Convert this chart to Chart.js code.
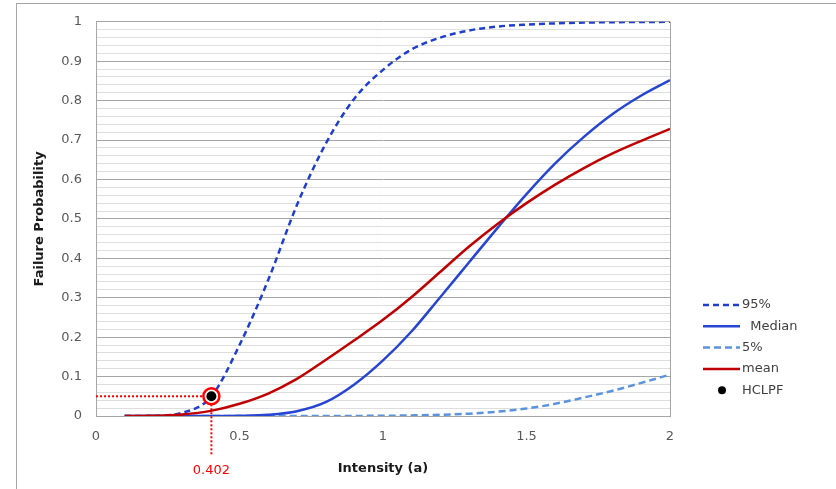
<!DOCTYPE html>
<html>
<head>
<meta charset="utf-8">
<script src="https://cdn.jsdelivr.net/npm/chart.js@4.4.1/dist/chart.umd.min.js"></script>
<style>
  body { margin: 0; background: #fff; }
  #wrap { position: relative; width: 836px; height: 489px; overflow: hidden; }
  /* grey frame of the pasted figure, only top and left edges show */
  #frame { position: absolute; left: 16px; top: 3px; width: 900px; height: 600px;
           border-top: 1px solid #a6a6a6; border-left: 1px solid #a6a6a6; }
  canvas { position: absolute; left: 0; top: 0; }
</style>
</head>
<body>
<div id="wrap"><div id="frame"></div><canvas id="fragility-chart" width="836" height="489"></canvas></div>
<script>
// intensity values (x) every 0.1
const intensity = [0.1, 0.2, 0.3, 0.4, 0.5, 0.6, 0.7, 0.8, 0.9, 1.0,
                   1.1, 1.2, 1.3, 1.4, 1.5, 1.6, 1.7, 1.8, 1.9, 2.0];

// failure probability per curve
const p95    = [0, 0.0005, 0.008, 0.048, 0.18, 0.345, 0.535, 0.69, 0.805, 0.878,
                0.93, 0.96, 0.978, 0.988, 0.993, 0.996, 0.998, 0.999, 0.9995, 1.0];
const median = [0, 0, 0, 0, 0.0005, 0.003, 0.012, 0.035, 0.08, 0.141,
                0.215, 0.302, 0.39, 0.478, 0.563, 0.641, 0.708, 0.766, 0.813, 0.852];
const p5     = [0, 0, 0, 0, 0, 0, 0, 0, 0.0002, 0.0006,
                0.0015, 0.003, 0.006, 0.011, 0.019, 0.031, 0.047, 0.064, 0.084, 0.105];
const mean   = [0, 0.0005, 0.004, 0.013, 0.031, 0.057, 0.094, 0.142, 0.192, 0.244,
                0.302, 0.366, 0.43, 0.488, 0.54, 0.587, 0.629, 0.666, 0.698, 0.728];

// HCLPF point
const hclpfX = 0.402;
const hclpfY = 0.05;

// tick labels
const xTickLabels = ['0', '0.5', '1', '1.5', '2'];
const yTickLabels = ['0', '0.1', '0.2', '0.3', '0.4', '0.5', '0.6', '0.7', '0.8', '0.9', '1'];

const FONT = "'DejaVu Sans', sans-serif";
Chart.defaults.font.family = FONT;
Chart.defaults.font.size = 13;

const toPoints = (ys) => intensity.map((x, i) => ({x: x, y: ys[i]}));
const isMajor = (v) => Math.abs(v * 10 - Math.round(v * 10)) < 1e-6;

const lineBase = {
    pointRadius: 0,
    borderWidth: 2.5,
    fill: false,
    cubicInterpolationMode: 'monotone'
};

// legend on the right + the red "0.402" label under the axis
const extrasPlugin = {
    id: 'extras',
    afterDraw(chart, args, opts) {
        const ctx = chart.ctx;
        const x0 = chart.chartArea.right + 33;
        let y = opts.legendTop;
        ctx.save();
        ctx.font = "13px " + FONT;
        ctx.textBaseline = 'middle';
        chart.data.datasets.forEach(ds => {
            if (!ds.inLegend) return;
            if (ds.showLine === false) {
                ctx.fillStyle = ds.pointBackgroundColor;
                ctx.beginPath();
                ctx.arc(x0 + 19, y, 4, 0, Math.PI * 2);
                ctx.fill();
            } else {
                ctx.strokeStyle = ds.borderColor;
                ctx.lineWidth = ds.borderWidth;
                ctx.setLineDash(ds.borderDash || []);
                ctx.beginPath();
                ctx.moveTo(x0, y);
                ctx.lineTo(x0 + 37, y);
                ctx.stroke();
                ctx.setLineDash([]);
            }
            ctx.fillStyle = '#404040';
            ctx.textAlign = 'left';
            ctx.fillText(ds.label, x0 + 39, y);
            y += 21.3;
        });

        const xs = chart.scales.x;
        ctx.fillStyle = '#ff0000';
        ctx.textAlign = 'center';
        ctx.fillText(String(hclpfX), xs.getPixelForValue(hclpfX), opts.valueLabelY);
        ctx.restore();
    }
};

new Chart("fragility-chart", {
    type: "line",
    data: {
        datasets: [
            Object.assign({}, lineBase, {
                label: '95%', data: toPoints(p95), inLegend: true,
                borderColor: '#1f3ecf', borderDash: [6, 4], order: 3
            }),
            Object.assign({}, lineBase, {
                label: '  Median', data: toPoints(median), inLegend: true,
                borderColor: '#2645d2', order: 3
            }),
            Object.assign({}, lineBase, {
                label: '5%', data: toPoints(p5), inLegend: true,
                borderColor: '#5b93dc', borderDash: [7, 4], order: 4
            }),
            Object.assign({}, lineBase, {
                label: 'mean', data: toPoints(mean), inLegend: true,
                borderColor: '#c00000', order: 2
            }),
            {
                label: 'HCLPF', data: [{x: hclpfX, y: hclpfY}], showLine: false, inLegend: true,
                pointRadius: 5, pointBackgroundColor: '#000000', pointBorderWidth: 0, order: 0
            },
            {
                label: 'ring', data: [{x: hclpfX, y: hclpfY}], showLine: false,
                pointRadius: 8, pointBackgroundColor: '#ffffff', pointBorderColor: '#ff0000',
                pointBorderWidth: 2.5, order: 1
            },
            // red dotted guide lines to the HCLPF point
            {
                label: 'guideH', data: [{x: 0, y: hclpfY}, {x: hclpfX, y: hclpfY}],
                borderColor: '#ff0000', borderWidth: 2, borderDash: [2, 2], pointRadius: 0, order: 5
            },
            {
                label: 'guideV', data: [{x: hclpfX, y: hclpfY}, {x: hclpfX, y: -0.1}], clip: false,
                borderColor: '#ff0000', borderWidth: 2, borderDash: [2, 2], pointRadius: 0, order: 5
            }
        ]
    },
    options: {
        responsive: false,
        animation: false,
        events: [],
        layout: {padding: {left: 32, top: 21, right: 166, bottom: 13}},
        plugins: {
            legend: {display: false},
            tooltip: {enabled: false},
            extras: {legendTop: 305, valueLabelY: 471}
        },
        scales: {
            x: {
                type: 'linear', min: 0, max: 2,
                afterFit: (s) => { s.height = 60; },
                ticks: {
                    stepSize: 0.5, autoSkip: false, padding: 13, color: '#595959',
                    callback: (v) => xTickLabels[Math.round(v * 2)]
                },
                grid: {
                    drawTicks: false,
                    color: (c) => (c.tick && c.tick.value === 2) ? '#a6a6a6' : 'rgba(0,0,0,0)'
                },
                border: {color: '#a6a6a6'},
                title: {
                    display: true, text: 'Intensity (a)', color: '#1a1a1a',
                    font: {weight: 'bold', size: 13}, padding: {top: 0, bottom: 0}
                }
            },
            y: {
                min: 0, max: 1,
                afterFit: (s) => { s.width = 64; },
                ticks: {
                    stepSize: 0.02, autoSkip: false, padding: 14, color: '#595959',
                    callback: (v) => isMajor(v) ? yTickLabels[Math.round(v * 10)] : ''
                },
                grid: {
                    drawTicks: false,
                    color: (c) => isMajor(c.tick.value) ? '#a6a6a6' : '#dedede'
                },
                border: {color: '#a6a6a6'},
                title: {
                    display: true, text: 'Failure Probability', color: '#1a1a1a',
                    font: {weight: 'bold', size: 13}, padding: {top: 0, bottom: 0}
                }
            }
        }
    },
    plugins: [extrasPlugin]
});
</script>
</body>
</html>
